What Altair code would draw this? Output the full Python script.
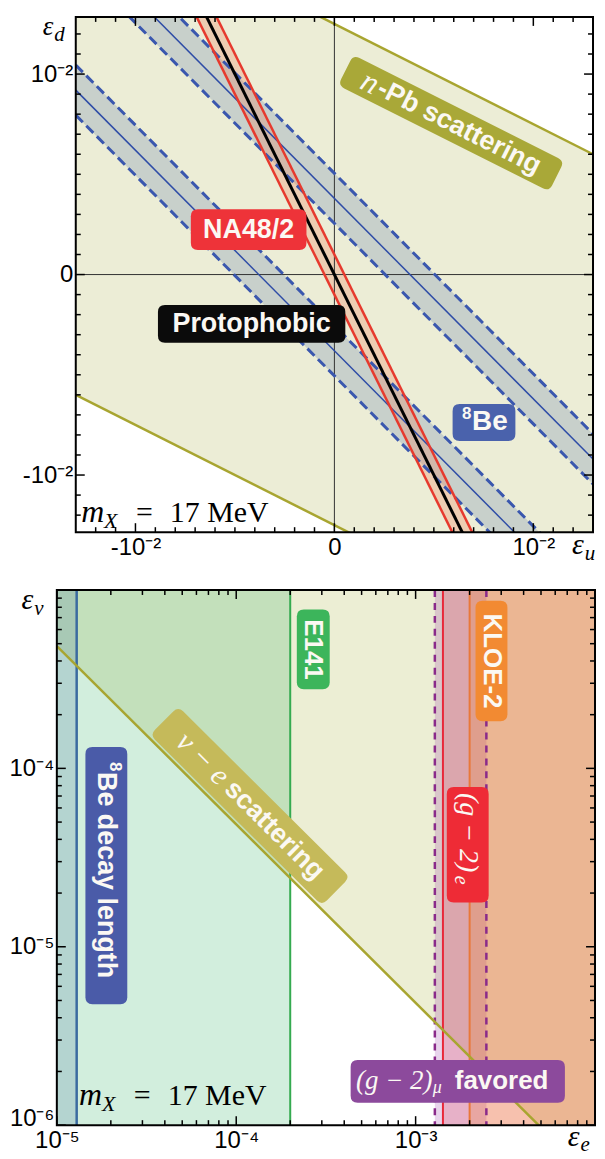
import altair as alt
import pandas as pd

# ======================= DATA =======================
# ---- top panel: eps_u (x) vs eps_d (y), linear axes ----
top_x_domain = [-0.013, 0.013]
top_y_domain = [-0.01285, 0.01285]

# n-Pb scattering: allowed band between two olive lines (values at x ends)
npb_x = [-0.013, 0.013]
npb_lower = [-0.0060, -0.0190]
npb_upper = [0.0190, 0.0060]

# 8Be bands (slope -1): centre line and dashed edges
be_x = [-0.013, 0.013]
beA_mid = [0.0168, -0.0092]
beA_lo = [0.01555, -0.01045]
beA_hi = [0.01805, -0.00795]
beB_mid = [0.0092, -0.0168]
beB_lo = [0.00795, -0.01805]
beB_hi = [0.01045, -0.01555]

# NA48/2 band and protophobic line (slope -2)
na_x = [-0.013, 0.013]
na_lo = [0.0250, -0.0270]
na_hi = [0.0270, -0.0250]
proto_y = [0.0260, -0.0260]

top_major = [-0.01, 0.0, 0.01]
top_minor = [-0.012, -0.011, -0.009, -0.008, -0.007, -0.006, -0.005, -0.004,
             -0.003, -0.002, -0.001, 0.001, 0.002, 0.003, 0.004, 0.005, 0.006,
             0.007, 0.008, 0.009, 0.011, 0.012]

# ---- bottom panel: eps_e (x) vs eps_nu (y), log axes ----
bot_x_domain = [1e-5, 1e-2]
bot_y_domain = [1e-6, 1e-3]
nue_x = [1e-5, 1e-2]
nue_y = [4.85e-4, 4.85e-7]
be_decay_edge = 1.29e-5
e141_edge = 2.0e-4
gm2mu_lo, gm2mu_hi = 1.28e-3, 2.48e-3
gm2e_edge = 1.42e-3
kloe_edge = 2.0e-3

bot_x_major = [1e-5, 1e-4, 1e-3]
bot_x_minor = [2e-5, 3e-5, 4e-5, 5e-5, 6e-5, 7e-5, 8e-5, 9e-5,
               2e-4, 3e-4, 4e-4, 5e-4, 6e-4, 7e-4, 8e-4, 9e-4,
               2e-3, 3e-3, 4e-3, 5e-3, 6e-3, 7e-3, 8e-3, 9e-3]
bot_y_major = [1e-6, 1e-5, 1e-4]
bot_y_minor = [2e-6, 3e-6, 4e-6, 5e-6, 6e-6, 7e-6, 8e-6, 9e-6,
               2e-5, 3e-5, 4e-5, 5e-5, 6e-5, 7e-5, 8e-5, 9e-5,
               2e-4, 3e-4, 4e-4, 5e-4, 6e-4, 7e-4, 8e-4, 9e-4]

# ======================= LAYOUT / STYLE =======================
W1, H1 = 519, 517
W2, H2 = 540, 537
SANS = "Liberation Sans"
SERIF = "Liberation Serif"
TXT = "#FBF8F3"

xs1 = alt.Scale(domain=top_x_domain, nice=False, zero=False)
ys1 = alt.Scale(domain=top_y_domain, nice=False, zero=False)
xs2 = alt.Scale(type="log", domain=bot_x_domain, nice=False)
ys2 = alt.Scale(type="log", domain=bot_y_domain, nice=False)


def axis(values, expr, baseline="middle"):
    return alt.Axis(values=values, labelExpr=expr, ticks=False, domain=False,
                    grid=False, title=None, labelFont=SANS, labelFontSize=24,
                    labelColor="black", labelPadding=3, labelOverlap=False,
                    labelFlush=False, labelBaseline=baseline)


TOP_EXPR = "datum.value == 0 ? '0' : (datum.value > 0 ? '10⁻²' : '-10⁻²')"
AX1 = axis(top_major, TOP_EXPR, "top")
AY1 = axis(top_major, TOP_EXPR)
AX2 = axis(bot_x_major, "datum.value < 5e-5 ? '10⁻⁵' : (datum.value < 5e-4 ? '10⁻⁴' : '10⁻³')", "top")
AY2 = axis(bot_y_major, "datum.value < 5e-6 ? '10⁻⁶' : (datum.value < 5e-5 ? '10⁻⁵' : '10⁻⁴')",
           {"condition": {"test": "datum.value < 5e-6", "value": "alphabetic"}, "value": "middle"})


class P:
    """scales + axes of one panel"""
    def __init__(self, xs, ys, ax, ay):
        self.xs, self.ys, self.ax, self.ay = xs, ys, ax, ay

    def X(self, f):
        return alt.X(f, type="quantitative", scale=self.xs, axis=self.ax)

    def Y(self, f):
        return alt.Y(f, type="quantitative", scale=self.ys, axis=self.ay)


P1 = P(xs1, ys1, AX1, AY1)
P2 = P(xs2, ys2, AX2, AY2)


def line(p, x, y, color, width, dash=None):
    kw = dict(color=color, strokeWidth=width, clip=True)
    if dash:
        kw["strokeDash"] = dash
    return alt.Chart(pd.DataFrame({"x": x, "y": y})).mark_line(**kw).encode(
        x=p.X("x"), y=p.Y("y"))


def band(p, x, lo, hi, color, opacity=1.0):
    return alt.Chart(pd.DataFrame({"x": x, "lo": lo, "hi": hi})).mark_area(
        color=color, opacity=opacity, clip=True).encode(
        x=p.X("x"), y=p.Y("lo"), y2="hi:Q")


def vrect(p, x0, x1, ydom, color, opacity):
    return alt.Chart(pd.DataFrame({"a": [x0], "b": [x1], "c": [ydom[0]], "d": [ydom[1]]})).mark_rect(
        color=color, opacity=opacity, clip=True).encode(
        x=p.X("a"), x2="b:Q", y=p.Y("c"), y2="d:Q")


def vline(p, xv, color, width, dash=None):
    kw = dict(color=color, strokeWidth=width)
    if dash:
        kw["strokeDash"] = dash
    return alt.Chart(pd.DataFrame({"v": [xv]})).mark_rule(**kw).encode(x=p.X("v"))


def hline(p, yv, color, width):
    return alt.Chart(pd.DataFrame({"v": [yv]})).mark_rule(color=color, strokeWidth=width).encode(y=p.Y("v"))


def badge_path(L, H, r):
    hh = H / L
    rr = 2.0 * r / L
    a, b = 1 - rr, hh - rr
    return (f"M {-a} {-hh} L {a} {-hh} Q 1 {-hh} 1 {-b} L 1 {b} Q 1 {hh} {a} {hh} "
            f"L {-a} {hh} Q -1 {hh} -1 {b} L -1 {-b} Q -1 {-hh} {-a} {-hh} Z")


def badges(p, rows):
    d = pd.DataFrame([{"x": r[0], "y": r[1], "path": badge_path(r[2], r[3], 7),
                       "size": r[2] ** 2, "angle": r[4], "color": r[5]} for r in rows])
    return alt.Chart(d).mark_point(filled=True, opacity=1, strokeWidth=0).encode(
        x=p.X("x"), y=p.Y("y"),
        shape=alt.Shape("path:N", scale=None),
        size=alt.Size("size:Q", scale=None),
        angle=alt.Angle("angle:Q", scale=None),
        color=alt.Color("color:N", scale=None))


def text(p, x, y, s, angle=0, dx=0, dy=0, size=27, font=SANS, weight="bold",
         style="normal", color=TXT, align="center", baseline="middle"):
    return alt.Chart(pd.DataFrame({"x": [x], "y": [y], "t": [s]})).mark_text(
        angle=angle, dx=dx, dy=dy, fontSize=size, font=font, fontWeight=weight,
        fontStyle=style, color=color, align=align, baseline=baseline).encode(
        x=p.X("x"), y=p.Y("y"), text="t:N")


def ticks(p, vals, W, H, length, which):
    base = alt.Chart(pd.DataFrame({"v": vals})).mark_rule(color="black", strokeWidth=1.5)
    if which == "x":
        return [base.encode(x=p.X("v"), y=alt.value(H), y2=alt.value(H - length)),
                base.encode(x=p.X("v"), y=alt.value(0), y2=alt.value(length))]
    return [base.encode(y=p.Y("v"), x=alt.value(0), x2=alt.value(length)),
            base.encode(y=p.Y("v"), x=alt.value(W), x2=alt.value(W - length))]


def frame(W, H):
    return alt.Chart(pd.DataFrame({"a": [0]})).mark_rect(
        fillOpacity=0, stroke="black", strokeWidth=2).encode(
        x=alt.value(0), x2=alt.value(W), y=alt.value(0), y2=alt.value(H))


def mass_label(p, x, y):
    kw = dict(font=SERIF, weight="normal", color="black", align="left", baseline="alphabetic")
    return [text(p, x, y, "m", size=32, style="italic", **kw),
            text(p, x, y, "X", dx=23, dy=6, size=22, style="italic", **kw),
            text(p, x, y, "=", dx=55, size=30, **kw),
            text(p, x, y, "17 MeV", dx=89, size=30, **kw)]


def eps_label(p, x, y, sub, size=30, sub_dy=6):
    kw = dict(font=SERIF, weight="normal", style="italic", color="black", baseline="alphabetic")
    return [text(p, x, y, "ε", size=size, align="right", **kw),
            text(p, x, y, sub, dx=1, dy=sub_dy, size=21, align="left", **kw)]


def be8(p, x, y, rest, start, angle=0, size=27):
    """'8' superscript followed by text, starting at offset `start` along the text direction"""
    return [text(p, x, y, "8", angle=angle, dx=start, dy=-9, size=17, align="left"),
            text(p, x, y, rest, angle=angle, dx=start + 10, size=size, align="left")]


# ======================= TOP PANEL =======================
top_layers = [
    band(P1, npb_x, npb_lower, npb_upper, "#ECEDD6"),
    band(P1, be_x, beA_lo, beA_hi, "#C8D0CB"),
    band(P1, be_x, beB_lo, beB_hi, "#C8D0CB"),
    band(P1, na_x, na_lo, na_hi, "#F06E46", 0.25),
    vline(P1, 0.0, "#333333", 1),
    hline(P1, 0.0, "#333333", 1),
    line(P1, be_x, beA_mid, "#2E4CA6", 1.5),
    line(P1, be_x, beB_mid, "#2E4CA6", 1.5),
    line(P1, be_x, beA_lo, "#3A57AE", 3, [10, 5]),
    line(P1, be_x, beA_hi, "#3A57AE", 3, [10, 5]),
    line(P1, be_x, beB_lo, "#3A57AE", 3, [10, 5]),
    line(P1, be_x, beB_hi, "#3A57AE", 3, [10, 5]),
    line(P1, na_x, na_lo, "#E63A2E", 2.5),
    line(P1, na_x, na_hi, "#E63A2E", 2.5),
    line(P1, na_x, proto_y, "#000000", 3),
    line(P1, npb_x, npb_upper, "#A8A530", 2.5),
    line(P1, npb_x, npb_lower, "#A8A530", 2.5),
    badges(P1, [
        (0.00587, 0.00755, 237, 34, 26.7, "#A9A838"),
        (-0.00431, 0.00224, 116, 41, 0, "#EE3339"),
        (-0.00416, -0.00246, 188, 38, 0, "#0B0B0B"),
        (0.00752, -0.00738, 63, 37, 0, "#4A62AC"),
    ]),
    text(P1, 0.00587, 0.00755, "n", angle=26.7, dx=-91, size=32, font=SERIF,
         weight="normal", style="italic"),
    text(P1, 0.00587, 0.00755, "-Pb scattering", angle=26.7, dx=9, size=27),
    text(P1, -0.00431, 0.00224, "NA48/2", size=27),
    text(P1, -0.00416, -0.00246, "Protophobic", size=27),
]
top_layers += be8(P1, 0.00752, -0.00738, "Be", -22, size=28)
top_layers += mass_label(P1, -0.01273, -0.01236)
top_layers += eps_label(P1, -0.01413, 0.01193, "d", size=27)
top_layers += eps_label(P1, 0.01253, -0.01395, "u")
top_layers += ticks(P1, top_major, W1, H1, 9, "x") + ticks(P1, top_minor, W1, H1, 5, "x")
top_layers += ticks(P1, top_major, W1, H1, 9, "y") + ticks(P1, top_minor, W1, H1, 5, "y")
top_layers.append(frame(W1, H1))
top = alt.layer(*top_layers).properties(width=W1, height=H1)

# ======================= BOTTOM PANEL =======================
bot_layers = [
    band(P2, nue_x, nue_y, [bot_y_domain[1]] * 2, "#B8C060", 0.27),
    vrect(P2, bot_x_domain[0], e141_edge, bot_y_domain, "#30B060", 0.215),
    vrect(P2, bot_x_domain[0], be_decay_edge, bot_y_domain, "#3C6EA0", 0.2),
    vrect(P2, gm2mu_lo, gm2mu_hi, bot_y_domain, "#963CAA", 0.22),
    vrect(P2, gm2e_edge, bot_x_domain[1], bot_y_domain, "#E6283C", 0.2),
    vrect(P2, kloe_edge, bot_x_domain[1], bot_y_domain, "#F08228", 0.235),
    vline(P2, be_decay_edge, "#3A6AA0", 2.5),
    vline(P2, e141_edge, "#35AA50", 2),
    vline(P2, gm2e_edge, "#E8283A", 2),
    vline(P2, kloe_edge, "#E8783A", 2),
    vline(P2, gm2mu_lo, "#8A2A8A", 2.5, [7, 6]),
    vline(P2, gm2mu_hi, "#8A2A8A", 2.5, [7, 6]),
    line(P2, nue_x, nue_y, "#A8A530", 2.5),
    badges(P2, [
        (1.194e-4, 6.16e-5, 243, 40, 44.8, "#C5BA5A"),
        (2.688e-4, 4.64e-4, 80, 33, 90, "#3CB55B"),
        (2.648e-3, 4.0e-4, 121, 32, 90, "#F28A32"),
        (1.952e-3, 3.73e-5, 116, 42, 90, "#EE2B36"),
        (1.888e-5, 2.505e-5, 258, 42, 90, "#4A5BA8"),
        (1.718e-3, 1.759e-6, 215, 43, 0, "#8C4A9C"),
    ]),
    text(P2, 1.194e-4, 6.16e-5, "ν − e", angle=44.8, dx=-98, size=30, font=SERIF,
         weight="normal", style="italic", align="left"),
    text(P2, 1.194e-4, 6.16e-5, "scattering", angle=44.8, dx=-30, size=27, align="left"),
    text(P2, 2.688e-4, 4.64e-4, "E141", angle=90, size=26),
    text(P2, 2.648e-3, 4.0e-4, "KLOE-2", angle=90, size=26),
    text(P2, 1.952e-3, 3.73e-5, "(g − 2)", angle=90, dx=-52, size=28, font=SERIF,
         weight="normal", style="italic", align="left"),
    text(P2, 1.952e-3, 3.73e-5, "e", angle=90, dx=31, dy=7, size=20, font=SERIF,
         weight="normal", style="italic", align="left"),
    text(P2, 1.718e-3, 1.759e-6, "(g − 2)", dx=-102, size=27, font=SERIF,
         weight="normal", style="italic", align="left"),
    text(P2, 1.718e-3, 1.759e-6, "μ", dx=-25, dy=7, size=18, font=SERIF,
         weight="normal", style="italic", align="left"),
    text(P2, 1.718e-3, 1.759e-6, "favored", dx=-3, size=26, align="left"),
]
bot_layers += be8(P2, 1.888e-5, 2.505e-5, "Be decay length", -114, angle=90, size=27)
bot_layers += mass_label(P2, 1.33e-5, 1.30e-6)
bot_layers += eps_label(P2, 7.38e-6, 7.86e-4, "ν")
bot_layers += eps_label(P2, 8.2e-3, 7.6e-7, "e", sub_dy=5)
bot_layers += ticks(P2, bot_x_major, W2, H2, 9, "x") + ticks(P2, bot_x_minor, W2, H2, 5, "x")
bot_layers += ticks(P2, bot_y_major, W2, H2, 9, "y") + ticks(P2, bot_y_minor, W2, H2, 5, "y")
bot_layers.append(frame(W2, H2))
bottom = alt.layer(*bot_layers).properties(width=W2, height=H2)

# ======================= ASSEMBLY =======================
spacer = alt.Chart(pd.DataFrame({"a": [0]})).mark_point(opacity=0, size=1).encode(
    x=alt.value(2), y=alt.value(2)).properties(width=19, height=4)
top_row = alt.hconcat(spacer, top, spacing=0, bounds="flush")

chart = alt.vconcat(top_row, bottom, spacing=19).properties(
    padding={"left": 0, "top": 3, "right": 0, "bottom": 0}
).configure_view(stroke="transparent")

chart.save("out.html", embed_options={"renderer": "svg", "actions": False})
